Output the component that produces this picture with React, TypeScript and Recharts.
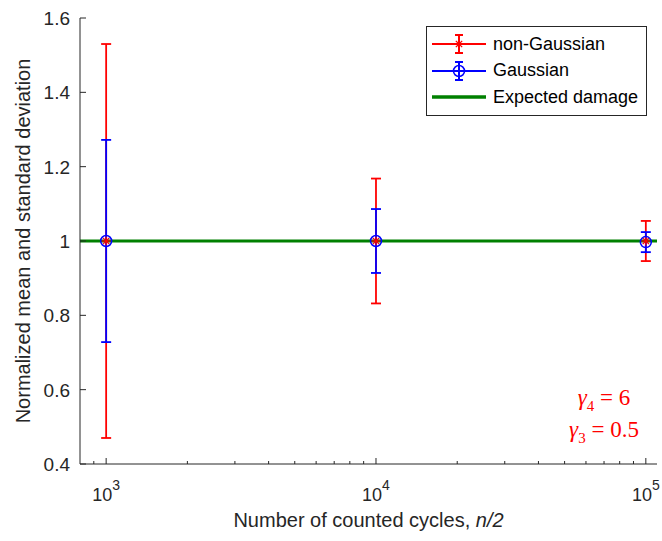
import React from 'react';
import {
  ScatterChart,
  Scatter,
  XAxis,
  YAxis,
  ErrorBar,
  ReferenceLine,
  Legend
} from 'recharts';

// counted cycles (n/2) and normalized damage statistics
const cycles = [1000, 10000, 100000];
const nonGaussianMean = [1.0, 1.0, 1.0];
const nonGaussianStd = [0.53, 0.168, 0.054];
const gaussianMean = [1.0, 1.0, 0.997];
const gaussianStd = [0.272, 0.086, 0.027];
const expectedDamage = 1;

const yTicks = [0.4, 0.6, 0.8, 1, 1.2, 1.4, 1.6];
const xMajorTicks = [1000, 10000, 100000];
const xMinorTicks = [
  900,
  2000, 3000, 4000, 5000, 6000, 7000, 8000, 9000,
  20000, 30000, 40000, 50000, 60000, 70000, 80000, 90000
];
const xTicks = [...xMinorTicks, ...xMajorTicks].sort((a, b) => a - b);
const exponents: Record<number, string> = { 1000: '3', 10000: '4', 100000: '5' };

const AXIS = '#262626';
const RED = '#ff0000';
const BLUE = '#0000ff';
const GREEN = '#008000';
const FONT = '"Liberation Sans", Arial, sans-serif';

const nonGaussianData = cycles.map((c, i) => ({ x: c, y: nonGaussianMean[i], err: nonGaussianStd[i] }));
const gaussianData = cycles.map((c, i) => ({ x: c, y: gaussianMean[i], err: gaussianStd[i] }));

const BottomTick = (props: any) => {
  const { x, y, payload } = props;
  const major = xMajorTicks.includes(payload.value);
  return (
    <g>
      <line x1={x} y1={y} x2={x} y2={y - (major ? 6 : 3)} stroke={AXIS} strokeWidth={1} />
      {major && (
        <text x={x} y={y + 37} textAnchor="middle" fill={AXIS} fontSize={18} fontFamily={FONT}>
          10
          <tspan fontSize={14} dy={-11}>{exponents[payload.value]}</tspan>
        </text>
      )}
    </g>
  );
};

const TopTick = (props: any) => {
  const { x, y, payload } = props;
  const major = xMajorTicks.includes(payload.value);
  return <line x1={x} y1={y} x2={x} y2={y + (major ? 6 : 3)} stroke={AXIS} strokeWidth={1} />;
};

const LeftTick = (props: any) => {
  const { x, y, payload } = props;
  return (
    <g>
      <line x1={x} y1={y} x2={x + 6} y2={y} stroke={AXIS} strokeWidth={1} />
      <text x={x - 10} y={y + 7} textAnchor="end" fill={AXIS} fontSize={19} fontFamily={FONT}>
        {payload.value}
      </text>
    </g>
  );
};

const RightTick = (props: any) => {
  const { x, y } = props;
  return <line x1={x} y1={y} x2={x - 6} y2={y} stroke={AXIS} strokeWidth={1} />;
};

const Asterisk = (props: any) => {
  const { cx, cy } = props;
  const r = 4.5;
  const d = r * 0.7;
  return (
    <g stroke={RED} strokeWidth={1.3}>
      <line x1={cx - r} y1={cy} x2={cx + r} y2={cy} />
      <line x1={cx} y1={cy - r} x2={cx} y2={cy + r} />
      <line x1={cx - d} y1={cy - d} x2={cx + d} y2={cy + d} />
      <line x1={cx - d} y1={cy + d} x2={cx + d} y2={cy - d} />
    </g>
  );
};

const Circle = (props: any) => {
  const { cx, cy } = props;
  return <circle cx={cx} cy={cy} r={5.5} fill="none" stroke={BLUE} strokeWidth={1.5} />;
};

const legendItems = [
  { label: 'non-Gaussian', color: RED, kind: 'star' },
  { label: 'Gaussian', color: BLUE, kind: 'circle' },
  { label: 'Expected damage', color: GREEN, kind: 'line' }
];

const renderLegend = () => (
  <div
    style={{
      border: `1px solid ${AXIS}`,
      background: '#fff',
      padding: '4px 8px 4px 5px',
      fontFamily: FONT,
      fontSize: 18,
      color: '#000'
    }}
  >
    {legendItems.map(item => (
      <div key={item.label} style={{ display: 'flex', alignItems: 'center', height: 26.5 }}>
        <svg width={57} height={26} style={{ marginRight: 4 }}>
          <line x1={0} y1={13} x2={54} y2={13} stroke={item.color} strokeWidth={item.kind === 'line' ? 3.5 : 2} />
          {item.kind !== 'line' && (
            <g stroke={item.color} strokeWidth={2}>
              <line x1={27} y1={4} x2={27} y2={22} />
              <line x1={23} y1={4} x2={31} y2={4} />
              <line x1={23} y1={22} x2={31} y2={22} />
            </g>
          )}
          {item.kind === 'star' && <Asterisk cx={27} cy={13} />}
          {item.kind === 'circle' && <Circle cx={27} cy={13} />}
        </svg>
        <span>{item.label}</span>
      </div>
    ))}
  </div>
);

export default function App() {
  return (
    <div style={{ position: 'absolute', left: 0, top: 0, width: 662, height: 541, background: '#fff' }}>
      <ScatterChart width={662} height={541} margin={{ top: 18, right: 5, bottom: 0, left: 0 }}>
        <XAxis
          dataKey="x"
          type="number"
          scale="log"
          domain={[800, 110000]}
          allowDataOverflow
          ticks={xTicks}
          interval={0}
          height={77}
          tickSize={0}
          tickMargin={0}
          tickLine={false}
          tick={BottomTick}
          axisLine={{ stroke: AXIS }}
          label={{
            content: (p: any) => {
              const vb = p.viewBox;
              return (
                <text x={vb.x + vb.width / 2} y={vb.y + 63} textAnchor="middle" fill={AXIS} fontSize={20} fontFamily={FONT}>
                  Number of counted cycles, <tspan fontStyle="italic">n/2</tspan>
                </text>
              );
            }
          }}
        />
        <XAxis
          xAxisId="top"
          orientation="top"
          type="number"
          scale="log"
          domain={[800, 110000]}
          allowDataOverflow
          ticks={xTicks}
          interval={0}
          height={0}
          tickSize={0}
          tickMargin={0}
          tickLine={false}
          tick={TopTick}
          axisLine={{ stroke: AXIS }}
        />
        <YAxis
          dataKey="y"
          type="number"
          domain={[0.4, 1.6]}
          ticks={yTicks}
          interval={0}
          width={80}
          tickSize={0}
          tickMargin={0}
          tickLine={false}
          tick={LeftTick}
          axisLine={{ stroke: AXIS }}
          label={{
            content: (p: any) => {
              const vb = p.viewBox;
              const cy = vb.y + vb.height / 2;
              return (
                <text
                  x={30}
                  y={cy}
                  transform={`rotate(-90, 30, ${cy})`}
                  textAnchor="middle"
                  fill={AXIS}
                  fontSize={20}
                  fontFamily={FONT}
                >
                  Normalized mean and standard deviation
                </text>
              );
            }
          }}
        />
        <YAxis
          yAxisId="right"
          orientation="right"
          type="number"
          domain={[0.4, 1.6]}
          ticks={yTicks}
          interval={0}
          width={0}
          tickSize={0}
          tickMargin={0}
          tickLine={false}
          tick={RightTick}
          axisLine={{ stroke: AXIS }}
        />
        <Legend
          layout="vertical"
          align="center"
          verticalAlign="middle"
          content={renderLegend}
          wrapperStyle={{ left: 426, top: 26, width: 'auto', height: 'auto' }}
        />
        <Scatter name="non-Gaussian" data={nonGaussianData} shape={Asterisk} isAnimationActive={false}>
          <ErrorBar dataKey="err" direction="y" width={5} stroke={RED} strokeWidth={1.8} />
        </Scatter>
        <Scatter name="Gaussian" data={gaussianData} shape={Circle} isAnimationActive={false}>
          <ErrorBar dataKey="err" direction="y" width={5} stroke={BLUE} strokeWidth={1.8} />
        </Scatter>
        <ReferenceLine y={expectedDamage} stroke={GREEN} strokeWidth={3} />
      </ScatterChart>
      <div
        style={{
          position: 'absolute',
          left: 556,
          top: 386,
          width: 96,
          textAlign: 'center',
          color: RED,
          fontFamily: '"Liberation Serif", "DejaVu Serif", serif',
          fontSize: 23,
          lineHeight: '24px'
        }}
      >
        <div>
          <i>γ</i>
          <sub style={{ fontSize: 15 }}>4</sub> = 6
        </div>
        <div>
          <i>γ</i>
          <sub style={{ fontSize: 15 }}>3</sub> = 0.5
        </div>
      </div>
    </div>
  );
}
